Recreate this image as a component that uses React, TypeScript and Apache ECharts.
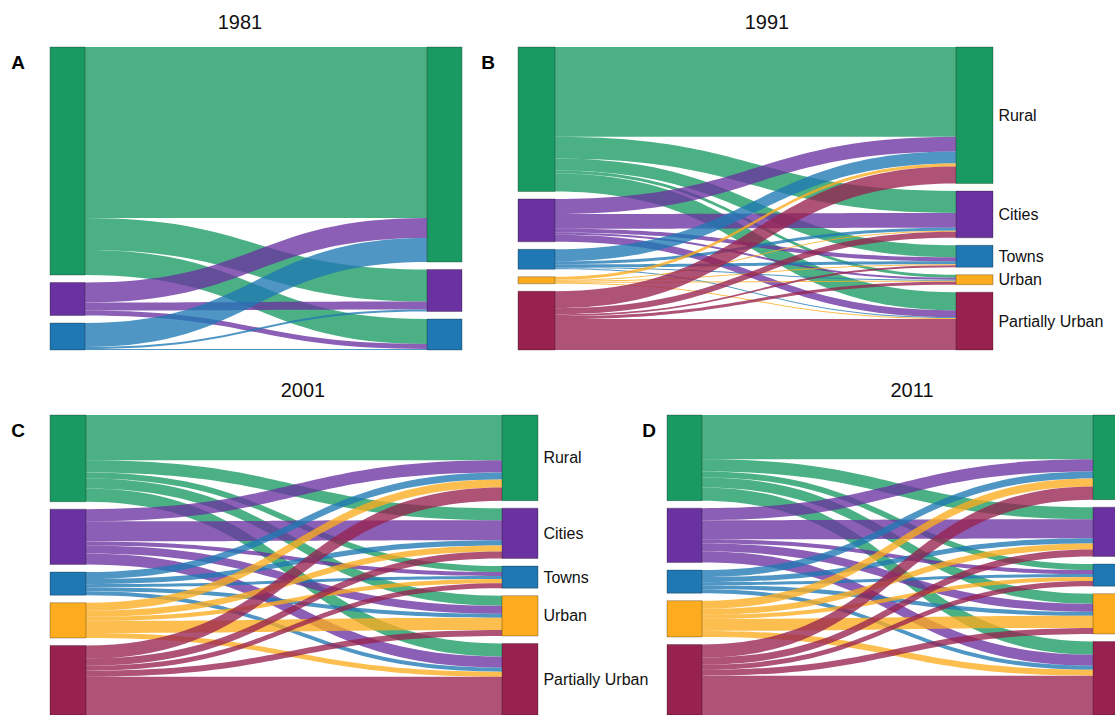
import React, { useEffect, useRef } from "react";
import * as echarts from "echarts";

const categories = ["Rural", "Cities", "Towns", "Urban", "Partially Urban"];
const colors = ["#1a9a63", "#6a32a0", "#1f78b4", "#fdac1f", "#98224f"];
const years = ["1981", "1991", "2001", "2011"];
const panelLetters = ["A", "B", "C", "D"];

// flows: rows = earlier class, cols = later class
const flows1981 = [
    [171, 32, 25],
    [20, 8, 5],
    [24, 2, 1],
];
const flows1991 = [
    [90, 22, 12, 3, 18],
    [15, 15, 4, 2, 7],
    [12, 3, 3, 1, 1],
    [3, 1, 1, 1, 1],
    [17, 6, 2, 3, 31],
];
const flows2001 = [
    [45, 12, 6, 10, 13],
    [12, 20, 4, 8, 11],
    [7, 5, 3, 4, 4],
    [8, 6, 4, 12, 5],
    [13, 7, 5, 6, 38],
];
const flows2011 = [
    [44, 12, 6, 10, 13],
    [12, 19, 4, 8, 11],
    [7, 5, 3, 4, 4],
    [8, 6, 4, 12, 6],
    [13, 7, 5, 6, 39],
];

const buildSeries = (flows: number[][], pos: any, showLabels: boolean) => {
    const n = flows.length;
    const cats = categories.slice(0, n);
    const nodes: any[] = [];
    cats.forEach((c, i) => nodes.push({ name: "L:" + c, itemStyle: { color: colors[i] }, label: { show: false } }));
    cats.forEach((c, i) => nodes.push({ name: "R:" + c, itemStyle: { color: colors[i] }, label: { show: showLabels } }));
    const links: any[] = [];
    flows.forEach((row, i) =>
        row.forEach((v, j) => {
            links.push({ source: "L:" + cats[i], target: "R:" + cats[j], value: v, lineStyle: { color: colors[i] } });
        })
    );
    return {
        type: "sankey",
        ...pos,
        layoutIterations: 0,
        nodeGap: 7.5,
        draggable: false,
        data: nodes,
        links,
        itemStyle: { borderColor: "rgba(0,0,0,0.35)", borderWidth: 0.8 },
        lineStyle: { opacity: 0.78, curveness: 0.5 },
        label: {
            position: "right",
            fontFamily: "Liberation Sans",
            fontSize: 16,
            color: "#111",
            formatter: (p: any) => p.name.split(":")[1],
        },
        emphasis: { disabled: true },
    };
};

const App: React.FC = () => {
    const chartRef = useRef<HTMLDivElement>(null);

    useEffect(() => {
        document.body.style.margin = "0";
        if (chartRef.current) {
            const chart = echarts.init(chartRef.current, undefined, { renderer: "svg" });
            const titlePos = [
                [240, 22],
                [767, 22],
                [303, 390],
                [912, 390],
            ];
            const letterPos = [
                [18, 62],
                [488, 62],
                [18, 430],
                [649, 430],
            ];
            const graphic: any[] = [];
            years.forEach((y, i) => {
                graphic.push({
                    type: "text",
                    x: titlePos[i][0],
                    y: titlePos[i][1],
                    style: { text: y, fontFamily: "Liberation Sans", fontSize: 20, fill: "#111", align: "center", verticalAlign: "middle" },
                });
                graphic.push({
                    type: "text",
                    x: letterPos[i][0],
                    y: letterPos[i][1],
                    style: { text: panelLetters[i], fontFamily: "Liberation Sans", fontWeight: "bold", fontSize: 19, fill: "#000", align: "center", verticalAlign: "middle" },
                });
            });
            chart.setOption({
                animation: false,
                backgroundColor: "#fff",
                graphic,
                series: [
                    buildSeries(flows1981, { left: 50, top: 47, width: 412, height: 303, nodeWidth: 35 }, false),
                    buildSeries(flows1991, { left: 518, top: 47, width: 475, height: 303, nodeWidth: 37 }, true),
                    buildSeries(flows2001, { left: 50, top: 415, width: 488, height: 300, nodeWidth: 36 }, true),
                    buildSeries(flows2011, { left: 667, top: 415, width: 461, height: 300, nodeWidth: 35 }, false),
                ],
            });
            return () => chart.dispose();
        }
    }, []);

    return <div ref={chartRef} style={{ width: "1115px", height: "715px" }} />;
};

export default App;
